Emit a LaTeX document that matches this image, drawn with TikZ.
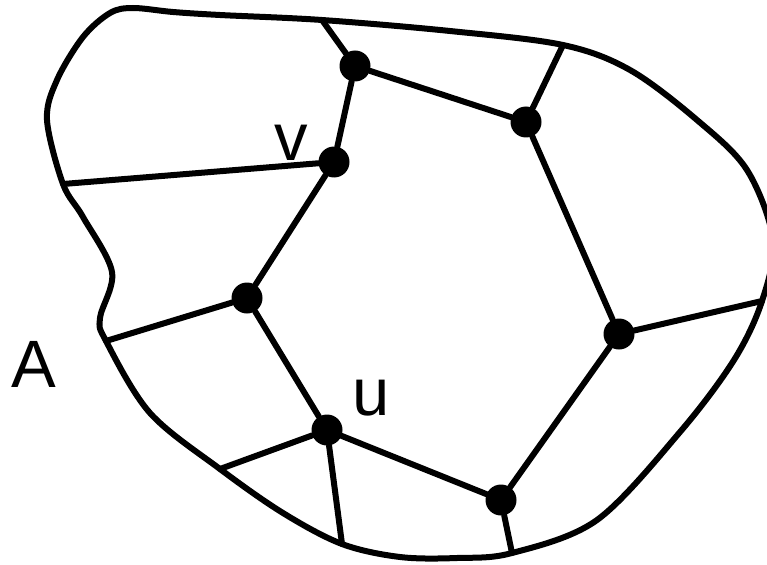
\documentclass[tikz,border=0pt]{standalone}
\usepackage{fontspec}
\setmainfont{Liberation Sans}
\begin{document}
\begin{tikzpicture}[x=1pt,y=-1pt,
  dot/.style={circle,fill=black,inner sep=0pt,minimum size=31pt},
  lbl/.style={inner sep=0pt,font=\fontsize{67}{67}\selectfont},
  edge/.style={line width=6pt,line cap=round}]
\useasboundingbox (0,0) rectangle (767,564);
% boundary attachment points
\coordinate (t1) at (322,20);
\coordinate (t2) at (563,45);
\coordinate (t3) at (762,301);
\coordinate (t4) at (512,553);
\coordinate (t5) at (342,544);
\coordinate (t6) at (220,469);
\coordinate (t7) at (106,341);
\coordinate (t8) at (63,184);
% outer region A
\begin{scope}
\clip (0,0) rectangle (767,564);
\draw[line width=6pt] plot[smooth cycle, tension=0.55] coordinates {
 (133,8) (173,12) (220,15) (t1) (450,31) (t2) (630,70) (697,120) (747,170)
 (773,240) (t3) (734,360) (680,432) (597,520) (t4) (457,558) (400,557)
 (t5) (283,513) (t6) (150,413) (t7) (100,318) (112,272) (83,217) (t8)
 (47,120) (57,80) (83,37) (110,13)};
\end{scope}
% vertices
\node[dot] (a) at (355,66) {};
\node[dot] (b) at (526,122) {};
\node[dot] (v) at (334,162) {};
\node[dot] (c) at (247,298) {};
\node[dot] (d) at (619,334) {};
\node[dot] (u) at (327,430) {};
\node[dot] (e) at (501,500) {};
% edges
\draw[edge] (a) -- (b);
\draw[edge] (a) -- (v);
\draw[edge] (v) -- (c);
\draw[edge] (c) -- (u);
\draw[edge] (u) -- (e);
\draw[edge] (e) -- (d);
\draw[edge] (d) -- (b);
\draw[edge] (a) -- (t1);
\draw[edge] (b) -- (t2);
\draw[edge] (v) -- (t8);
\draw[edge] (c) -- (t7);
\draw[edge] (d) -- (t3);
\draw[edge] (u) -- (t6);
\draw[edge] (u) -- (t5);
\draw[edge] (e) -- (t4);
% labels
\node[lbl] (lv) at (291,143) {v};
\node[lbl] (lu) at (371,398) {u};
\node[lbl] (lA) at (34,364) {A};
\end{tikzpicture}
\end{document}
